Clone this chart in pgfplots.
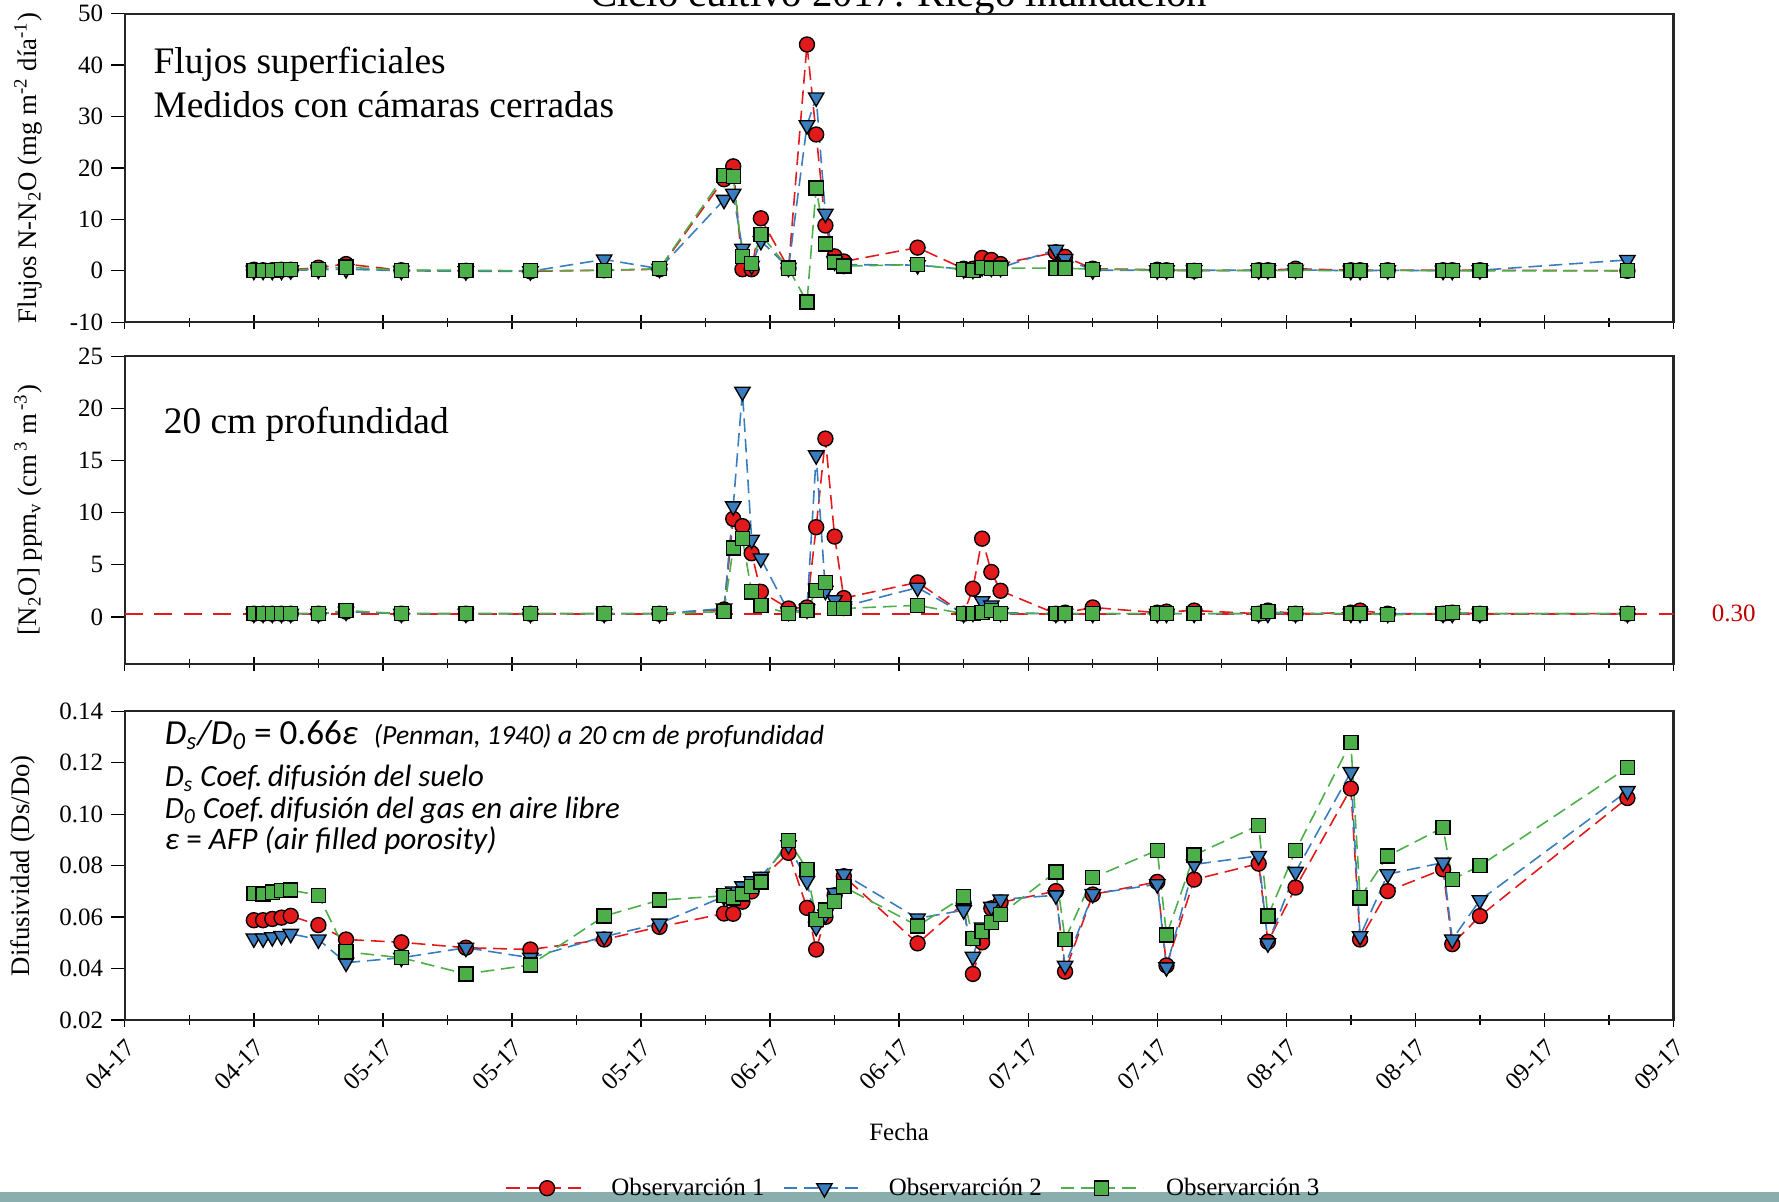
\documentclass[border=0pt]{standalone}
\usepackage{fontspec}
\setmainfont{Liberation Serif}
\newfontfamily\carlito{Carlito}
\usepackage{pgfplots}
\usepackage{pgfplotstable}
\pgfplotsset{compat=1.18}

\definecolor{cR}{HTML}{E31A1C}
\definecolor{cB}{HTML}{3A7DBF}
\definecolor{cG}{HTML}{4DAF4A}
\definecolor{cBar}{HTML}{8AADAD}
\definecolor{cLbl}{HTML}{C00000}

\pgfplotstableread{
d a b c
14 0.2 0.0 0.1
15 0.1 0.0 0.1
16 0.1 0.0 0.1
17 0.2 0.0 0.2
18 0.2 0.1 0.2
21 0.6 0.2 0.3
24 1.3 0.3 0.7
30 0.1 0.0 0.1
37 0.0 -0.1 0.1
44 -0.1 -0.1 0.0
52 0.1 2.2 0.1
58 0.3 0.4 0.4
65 17.8 13.8 18.5
66 20.3 15.0 18.3
67 0.3 4.3 2.8
68 0.3 1.0 1.4
69 10.2 5.8 7.0
72 0.5 0.6 0.5
74 44.0 28.3 -6.1
75 26.5 33.7 16.1
76 8.8 11.1 5.2
77 2.8 1.8 1.7
78 1.8 1.2 0.9
86 4.5 1.1 1.2
91 0.4 0.3 0.2
92 0.4 0.2 0.1
93 2.5 0.7 0.6
94 2.1 0.6 0.5
95 1.3 0.6 0.5
101 3.6 4.1 0.5
102 2.7 2.3 0.5
105 0.4 0.1 0.3
112 0.2 0.1 0.1
113 0.1 0.1 0.1
116 0.0 0.1 0.1
123 0.1 0.1 0.0
124 0.1 0.1 0.0
127 0.4 0.2 0.1
133 0.1 0.0 0.0
134 0.1 0.0 0.0
137 0.1 0.1 0.1
143 0.1 0.0 0.0
144 0.1 0.0 0.0
147 0.1 0.1 0.0
163 0.0 2.1 0.0
}\flux

\pgfplotstableread{
d a b c
14 0.3 0.3 0.3
15 0.3 0.3 0.3
16 0.3 0.3 0.3
17 0.3 0.3 0.3
18 0.3 0.3 0.3
21 0.3 0.3 0.3
24 0.5 0.5 0.6
30 0.3 0.3 0.3
37 0.3 0.3 0.3
44 0.3 0.3 0.3
52 0.3 0.3 0.3
58 0.3 0.3 0.3
65 0.7 0.8 0.5
66 9.4 10.6 6.6
67 8.7 21.6 7.5
68 6.1 7.4 2.4
69 2.4 5.6 1.1
72 0.8 0.5 0.3
74 0.9 0.7 0.6
75 8.6 15.5 2.5
76 17.1 2.5 3.3
77 7.7 1.6 0.8
78 1.8 1.0 0.8
86 3.3 2.8 1.1
91 0.3 0.3 0.3
92 2.7 0.4 0.3
93 7.5 1.5 0.4
94 4.3 1.1 0.6
95 2.5 0.4 0.3
101 0.3 0.3 0.3
102 0.4 0.3 0.3
105 0.9 0.3 0.3
112 0.4 0.3 0.3
113 0.5 0.3 0.3
116 0.6 0.3 0.3
123 0.3 0.3 0.3
124 0.6 0.3 0.5
127 0.3 0.3 0.3
133 0.4 0.3 0.3
134 0.6 0.3 0.3
137 0.3 0.3 0.2
143 0.3 0.3 0.3
144 0.4 0.3 0.4
147 0.3 0.3 0.3
163 0.3 0.3 0.3
}\conc

\pgfplotstableread{
d a b c
14 0.0588 0.0517 0.0692
15 0.0588 0.0517 0.0690
16 0.0593 0.0522 0.0697
17 0.0598 0.0527 0.0703
18 0.0605 0.0535 0.0705
21 0.0569 0.0513 0.0685
24 0.0513 0.0423 0.0465
30 0.0502 0.0442 0.0442
37 0.0481 0.0481 0.0379
44 0.0474 0.0442 0.0414
52 0.0513 0.0524 0.0604
58 0.0562 0.0575 0.0666
65 0.0614 0.0680 0.0683
66 0.0613 0.0700 0.0675
67 0.0660 0.0720 0.0690
68 0.0700 0.0740 0.0718
69 0.0745 0.0757 0.0737
72 0.0850 0.0880 0.0899
74 0.0636 0.0741 0.0786
75 0.0474 0.0562 0.0591
76 0.0601 0.0610 0.0627
77 0.0685 0.0694 0.0660
78 0.0759 0.0767 0.0718
86 0.0498 0.0595 0.0566
91 0.0653 0.0627 0.0679
92 0.0379 0.0446 0.0516
93 0.0502 0.0560 0.0543
94 0.0634 0.0640 0.0579
95 0.0657 0.0669 0.0610
101 0.0701 0.0685 0.0776
102 0.0388 0.0411 0.0513
105 0.0688 0.0690 0.0753
112 0.0737 0.0728 0.0860
113 0.0412 0.0405 0.0530
116 0.0746 0.0805 0.0841
123 0.0808 0.0838 0.0957
124 0.0504 0.0498 0.0604
127 0.0715 0.0776 0.0858
133 0.1100 0.1164 0.1280
134 0.0513 0.0526 0.0675
137 0.0701 0.0767 0.0838
143 0.0786 0.0812 0.0948
144 0.0495 0.0513 0.0746
147 0.0604 0.0666 0.0800
163 0.1063 0.1090 0.1181
}\diff

\tikzset{ann/.style={anchor=base west, inner sep=0pt}}

\pgfplotsset{
  panel/.style={
    scale only axis, width=682.5pt, height=136pt,
    xmin=0, xmax=168,
    xtick={0,14,...,168}, minor xtick={7,21,...,161},
    xtick pos=bottom, ytick pos=left,
    xtick align=center, ytick align=outside,
    major tick length=6pt, minor tick length=4pt,
    axis line style={line width=0.9pt, black!85},
    every tick/.style={black, line width=0.6pt},
    tick label style={font=\fontsize{11}{13}\selectfont},
    /pgf/number format/assume math mode=true,
    ylabel style={font=\fontsize{11.8}{13}\selectfont, at={(axis description cs:-0.0623,0.5)}, anchor=center},
    legend image code/.code={\draw[mark repeat=2,mark phase=2,##1] plot coordinates {(0pt,0pt) (18pt,0pt) (36pt,0pt)};},
  },
  sA/.style={color=cR, line width=0.7pt, dash pattern=on 6pt off 3pt, mark=*, mark size=3.3pt, mark options={solid, fill=cR, draw=black, line width=0.6pt}},
  sB/.style={color=cB, line width=0.7pt, dash pattern=on 6pt off 3pt, mark=triangle*, mark size=3.9pt, mark options={solid, fill=cB, draw=black, line width=0.6pt, rotate=180}},
  sC/.style={color=cG, line width=0.7pt, dash pattern=on 6pt off 3pt, mark=square*, mark size=3.1pt, mark options={solid, fill=cG, draw=black, line width=0.6pt}},
}

\begin{document}
\begin{tikzpicture}
\fill[cBar] (0pt,-525.5pt) rectangle (784pt,-529.5pt);
\node[anchor=base, font=\fontsize{18}{20}\selectfont] at (396pt,-3pt) {Ciclo cultivo 2017. Riego inundación};

% Top panel
\begin{axis}[panel, at={(55pt,-6pt)}, anchor=north west,
  ymin=-10, ymax=50, ytick={-10,0,...,50}, xticklabels={},
  ylabel={Flujos N-N\textsubscript{2}O (mg m\textsuperscript{-2} día\textsuperscript{-1})}]
\addplot[sA] table[x=d,y=a]{\flux};
\addplot[sB] table[x=d,y=b]{\flux};
\addplot[sC] table[x=d,y=c]{\flux};
\node[ann, font=\fontsize{16.5}{18}\selectfont] at (rel axis cs:0.0183,0.805) {Flujos superficiales};
\node[ann, font=\fontsize{16.5}{18}\selectfont] at (rel axis cs:0.0183,0.662) {Medidos con cámaras cerradas};
\end{axis}

% Middle panel
\begin{axis}[panel, at={(55pt,-157pt)}, anchor=north west, height=135.5pt,
  ymin=-4.5, ymax=25, ytick={0,5,...,25}, xticklabels={},
  ylabel={[N\textsubscript{2}O] ppm\textsubscript{v} (cm\textsuperscript{\,3} m\textsuperscript{\,-3})}]
\addplot[cR, line width=0.8pt, dash pattern=on 8pt off 5pt, forget plot] coordinates {(0,0.3) (168,0.3)};
\addplot[sA] table[x=d,y=a]{\conc};
\addplot[sB] table[x=d,y=b]{\conc};
\addplot[sC] table[x=d,y=c]{\conc};
\node[ann, font=\fontsize{16.5}{18}\selectfont] at (rel axis cs:0.0249,0.749) {20 cm profundidad};
\end{axis}
\node[text=cLbl, font=\fontsize{11}{13}\selectfont] at (764pt,-270.5pt) {0.30};

% Bottom panel
\begin{axis}[panel, at={(55pt,-313.5pt)}, anchor=north west,
  ymin=0.02, ymax=0.14, ytick={0.02,0.04,...,0.141},
  yticklabel style={/pgf/number format/.cd, fixed, fixed zerofill, precision=2},
  xticklabels={04-17,04-17,05-17,05-17,05-17,06-17,06-17,07-17,07-17,08-17,08-17,09-17,09-17},
  xticklabel style={rotate=45, anchor=north east, font=\fontsize{11}{13}\selectfont},
  ylabel style={at={(axis description cs:-0.066,0.5)}},
  ylabel={Difusividad (Ds/Do)},
  xlabel={Fecha},
  xlabel style={font=\fontsize{11}{13}\selectfont, at={(axis description cs:0.5,0)}, anchor=center, yshift=-49.5pt},
  legend style={at={(0.51,-0.545)}, anchor=center, draw=none, fill=none, legend columns=3,
    font=\fontsize{11}{13}\selectfont,
    /tikz/every odd column/.append style={column sep=8pt},
    /tikz/every even column/.append style={column sep=6pt}},
  ]
\addplot[sA] table[x=d,y=a]{\diff};
\addlegendentry{Observarción 1}
\addplot[sB] table[x=d,y=b]{\diff};
\addlegendentry{Observarción 2}
\addplot[sC] table[x=d,y=c]{\diff};
\addlegendentry{Observarción 3}
\node[ann] at (rel axis cs:0.0256,0.893) {\carlito\itshape\fontsize{15.5}{17}\selectfont D\textsubscript{s}/D\textsubscript{0}\ {\upshape =}\ {\upshape 0.66}ε\ \ {\fontsize{12.2}{14}\selectfont (Penman, 1940) a 20 cm de profundidad}};
\node[ann] at (rel axis cs:0.0256,0.756) {\carlito\itshape\fontsize{13.6}{15}\selectfont D\textsubscript{s} Coef.\,difusión del suelo};
\node[ann] at (rel axis cs:0.0256,0.653) {\carlito\itshape\fontsize{13.6}{15}\selectfont D\textsubscript{0} Coef.\,difusión del gas en aire libre};
\node[ann] at (rel axis cs:0.0256,0.553) {\carlito\itshape\fontsize{13.8}{15}\selectfont ε\ {\upshape =}\ AFP (air filled porosity)};
\end{axis}
\pgfresetboundingbox
\useasboundingbox (0pt,0pt) rectangle (784pt,-529.5pt);
\end{tikzpicture}
\end{document}
